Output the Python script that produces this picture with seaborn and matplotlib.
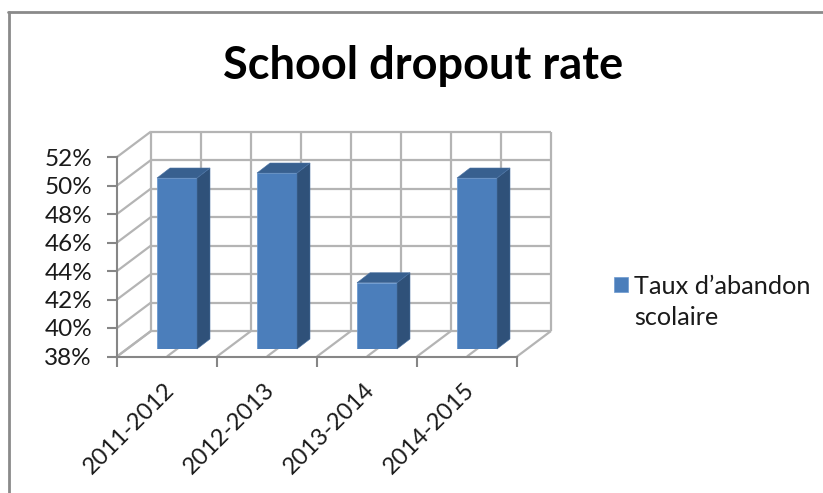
import numpy as np
import pandas as pd
import matplotlib
matplotlib.use("Agg")
import matplotlib.pyplot as plt
from matplotlib.lines import Line2D
from matplotlib.patches import Patch, Polygon
from matplotlib.transforms import ScaledTranslation
import seaborn as sns

years = ["2011-2012", "2012-2013", "2013-2014", "2014-2015"]
rates = [50.0, 50.35, 42.65, 50.0]
pct_ticks = [38, 40, 42, 44, 46, 48, 50, 52]
series_name = "Taux d’abandon\nscolaire"
title_text = "School dropout rate"

W, H = 823, 493
sns.set_theme(style="white")
plt.rcParams["font.family"] = ["Lato", "DejaVu Sans"]

GRID = "#b4b4b4"
AXIS = "#868686"
TEXT = "#1a1a1a"
FRONT = "#4b7ebb"
SIDE = "#2f5179"
TOP = "#38608f"


def px_axes(fig, left, right, top, bottom):
    return fig.add_axes([left / W, 1 - bottom / H, (right - left) / W, (bottom - top) / H])


fig = plt.figure(figsize=(W / 100, H / 100), dpi=100, facecolor="white")

base = px_axes(fig, 117, 517, 157, 356.5)
bars = px_axes(fig, 127, 527, 149.5, 349)

df = pd.DataFrame({"year": years, "rate": rates})
sns.barplot(data=df, x="year", y="rate", ax=bars, color=FRONT, saturation=1,
            width=0.4, edgecolor="#6d9ad0", linewidth=0.6, zorder=3)

for a in (base, bars):
    a.set_xlim(-0.5, len(years) - 0.5)
    a.set_ylim(pct_ticks[0], pct_ticks[-1])
bars.axis("off")
bars.patch.set_visible(False)

ymin, ymax = pct_ticks[0], pct_ticks[-1]
xmin, xmax = base.get_xlim()
ppx = (xmax - xmin) / 400          # data units per pixel, x
ppy = (ymax - ymin) / 199.5        # data units per pixel, y

# depth of the box and of each bar
box_dx, box_dy = 34 * ppx, 25.5 * ppy
bar_dx, bar_dy = 13 * ppx, 10 * ppy

# walls and floor
lw = 1.6
line = dict(color=GRID, lw=lw, clip_on=False, zorder=1, solid_capstyle="butt")
for v in pct_ticks:
    base.plot([xmin, xmin + box_dx], [v, v + box_dy], **line)
    base.plot([xmin + box_dx, xmax + box_dx], [v + box_dy, v + box_dy], **line)
for x in np.arange(xmin, xmax + 0.01, 0.5):
    base.plot([x, x + box_dx], [ymin, ymin + box_dy], **line)
    base.plot([x + box_dx, x + box_dx], [ymin + box_dy, ymax + box_dy], **line)

# bar sides and tops
for p in list(bars.patches):
    x0, x1 = p.get_x(), p.get_x() + p.get_width()
    top = p.get_height()
    bars.add_patch(Polygon([(x1, ymin), (x1 + bar_dx, ymin + bar_dy),
                            (x1 + bar_dx, top + bar_dy), (x1, top)],
                           closed=True, fc=SIDE, ec="#4a72a3", lw=0.4, zorder=3, clip_on=False))
    bars.add_patch(Polygon([(x0, top), (x0 + bar_dx, top + bar_dy),
                            (x1 + bar_dx, top + bar_dy), (x1, top)],
                           closed=True, fc=TOP, ec="#4a72a3", lw=0.4, zorder=3, clip_on=False))

# axes
base.patch.set_visible(False)
sns.despine(ax=base, top=True, right=True)
for s in ("left", "bottom"):
    base.spines[s].set_color(AXIS)
    base.spines[s].set_linewidth(1.5)
base.set_yticks(pct_ticks)
base.set_yticklabels([f"{v}%" for v in pct_ticks], fontsize=17.5, color=TEXT)
base.set_xticks(np.arange(xmin, xmax + 0.01, 1.0))
base.set_xticklabels([])
base.set_xticks(range(len(years)), minor=True)
base.set_xticklabels(years, minor=True, rotation=45, ha="right", va="top",
                     rotation_mode="anchor", fontsize=17, color=TEXT)
base.tick_params(axis="both", which="major", length=7, width=1.5, color=AXIS,
                 left=True, bottom=True)
base.tick_params(axis="y", which="major", pad=11)
base.tick_params(axis="x", which="minor", length=0, pad=16)
shift = ScaledTranslation(-3 / 100, 0, fig.dpi_scale_trans)
for lab in base.get_xticklabels(minor=True):
    lab.set_transform(lab.get_transform() + shift)
base.set_xlabel("")
base.set_ylabel("")

fig.text(423 / W, 1 - 66 / H, title_text, ha="center", va="center",
         fontsize=32.5, fontweight="bold", color="black")

handle = Patch(facecolor=FRONT, edgecolor="#6d9ad0", linewidth=0.5)
leg = fig.legend([handle], [series_name], loc="upper left",
                 bbox_to_anchor=(591 / W, 1 - 252 / H), frameon=False, fontsize=18.2,
                 handlelength=0.55, handleheight=0.55, handletextpad=0.27, labelcolor=TEXT,
                 alignment="left")
for t in leg.get_texts():
    t.set_linespacing(1.42)
leg.legend_handles[0].set_y(14)

# chart frame cut by the picture's edges
frame = dict(color="#8a8a8a", lw=2, transform=fig.transFigure)
fig.add_artist(Line2D([9 / W, 9 / W], [0, 1 - 12 / H], **frame))
fig.add_artist(Line2D([8.3 / W, 1], [1 - 12 / H, 1 - 12 / H], **frame))

fig.savefig("out.png", dpi=100)
